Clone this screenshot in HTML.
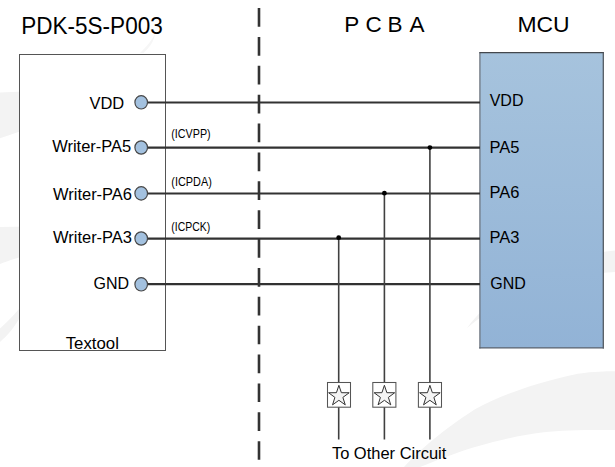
<!DOCTYPE html>
<html><head><meta charset="utf-8">
<style>
html,body{margin:0;padding:0;background:#fff;}
body{width:615px;height:467px;overflow:hidden;position:relative;}
svg{position:absolute;left:0;top:0;}
text{font-family:"Liberation Sans",sans-serif;fill:#000;}
</style></head><body>
<svg width="615" height="467" viewBox="0 0 615 467">
<defs>
<linearGradient id="mcu" x1="0" y1="0" x2="0" y2="1">
<stop offset="0" stop-color="#a6c3dd"/>
<stop offset="1" stop-color="#92b3d6"/>
</linearGradient>
</defs>
<g fill="#f3f3f3">
<path d="M0,92.5 L60,90 L60,118 L0,138.3 Z"/>
<path d="M0,227 L60,226 L60,250 C30,254 15,258 0,264 Z"/>
<path d="M19,309 C12,317 6,323 0,328.5 L0,342 C8,335 14,328 22,314 Z"/>
<path d="M467,328 C500,285 550,256 615,250.5 L615,272 C560,274 510,292 467,328 Z"/>
<path d="M404,467 C420,450 440,432 475,409.3 C500,396 530,384 578,373.7 C595,371.5 605,371.3 615,371.3 L615,430 C590,429.8 560,430 543.7,432.2 C520,435 500,440 475,447 C455,453 435,461 420,467 Z"/>
<path fill="#f6f6f6" d="M140,53 C147,46 152,40 155,34 C154,41 150,47 143.5,53 Z"/>
</g>
<!-- watermark placeholder -->
<!-- titles -->
<text transform="translate(21.2,33.9) scale(0.98,1)" font-size="23">PDK-5S-P003</text>
<g font-size="22.5">
<text x="344.2" y="31.8">P</text>
<text x="365.6" y="31.8">C</text>
<text x="387.6" y="31.8">B</text>
<text x="409.6" y="31.8">A</text>
</g>
<text transform="translate(517.4,31.7) scale(1.02,1)" font-size="22.5">MCU</text>
<!-- Textool box -->
<rect x="19.5" y="54.5" width="146" height="296" fill="#fff" stroke="#555" stroke-width="1"/>
<!-- dashed -->
<line x1="259" y1="8.1" x2="259" y2="467" stroke="#333" stroke-width="2.6" stroke-dasharray="18.7 10.17"/>
<!-- MCU box -->
<rect x="479.9" y="52.3" width="123.4" height="295.6" fill="url(#mcu)"/>
<g stroke-width="1.25" fill="none">
<line x1="479.9" y1="52.4" x2="479.9" y2="348.5" stroke="#6a727c"/>
<line x1="479.3" y1="52.5" x2="604" y2="52.5" stroke="#43474d"/>
<line x1="603.3" y1="51.9" x2="603.3" y2="348.5" stroke="#4f555c"/>
<line x1="479.3" y1="347.9" x2="604" y2="347.9" stroke="#58616c"/>
</g>
<!-- horizontal lines -->
<g stroke="#323232" stroke-width="2.2">
<line x1="141" y1="102.5" x2="480" y2="102.5"/>
<line x1="141" y1="147.7" x2="480" y2="147.7"/>
<line x1="141" y1="193.5" x2="480" y2="193.5"/>
<line x1="141" y1="238.6" x2="480" y2="238.6"/>
<line x1="141" y1="284.2" x2="480" y2="284.2"/>
</g>
<!-- vertical lines -->
<g stroke="#404040" stroke-width="1.6">
<line x1="338.7" y1="238.6" x2="338.7" y2="439.5"/>
<line x1="384.4" y1="193.5" x2="384.4" y2="439.5"/>
<line x1="429.9" y1="147.7" x2="429.9" y2="439.5"/>
</g>
<g fill="#000">
<circle cx="338.7" cy="237.7" r="2.4"/>
<circle cx="384.4" cy="193.2" r="2.4"/>
<circle cx="429.9" cy="147.6" r="2.4"/>
</g>
<!-- pins -->
<g fill="#a3c1df" stroke="#474747" stroke-width="1.2">
<ellipse cx="141.2" cy="102.3" rx="6.3" ry="6.7"/>
<ellipse cx="141.2" cy="147.5" rx="6.3" ry="6.7"/>
<ellipse cx="141.2" cy="193.4" rx="6.3" ry="6.7"/>
<ellipse cx="141.2" cy="238.5" rx="6.3" ry="6.7"/>
<ellipse cx="141.2" cy="284.3" rx="6.3" ry="6.7"/>
</g>
<!-- left labels -->
<g font-size="16">
<text transform="translate(89.4,108.9) scale(1.03,1)">VDD</text>
<text transform="translate(52.2,151.9) scale(1.03,1)">Writer-PA5</text>
<text transform="translate(53.0,200.1) scale(1.03,1)">Writer-PA6</text>
<text transform="translate(53.0,243) scale(1.03,1)">Writer-PA3</text>
<text transform="translate(93.5,289.3)">GND</text>
<text transform="translate(65.7,349) scale(1.05,1)">Textool</text>
</g>
<!-- signal names -->
<g font-size="12">
<text transform="translate(171.3,138.2) scale(0.895,1)">(ICVPP)</text>
<text transform="translate(171.3,186.2) scale(0.907,1)">(ICPDA)</text>
<text transform="translate(171.3,230.8) scale(0.872,1)">(ICPCK)</text>
</g>
<!-- MCU labels -->
<g font-size="16">
<text transform="translate(489.7,106.2) scale(1.0,1)">VDD</text>
<text transform="translate(489.6,152.7) scale(1.03,1)">PA5</text>
<text transform="translate(489.5,197.8) scale(1.03,1)">PA6</text>
<text transform="translate(489.5,242.8) scale(1.03,1)">PA3</text>
<text transform="translate(490.35,288.8)">GND</text>
</g>
<!-- star boxes -->
<g id="sb">
</g>
<g fill="#fff" stroke="#555" stroke-width="1.05">
<rect x="327.5" y="382.5" width="23" height="24.7"/>
<rect x="372.8" y="382.5" width="23.1" height="24.7"/>
<rect x="418.4" y="382.5" width="23.1" height="24.7"/>
</g>
<g fill="#f4f4f4" stroke="#333" stroke-width="1">
<polygon points="338.90,385.30 341.37,392.70 349.17,392.76 342.89,397.40 345.25,404.84 338.90,400.30 332.55,404.84 334.91,397.40 328.63,392.76 336.43,392.70"/>
<polygon points="384.40,385.30 386.87,392.70 394.67,392.76 388.39,397.40 390.75,404.84 384.40,400.30 378.05,404.84 380.41,397.40 374.13,392.76 381.93,392.70"/>
<polygon points="429.90,385.30 432.37,392.70 440.17,392.76 433.89,397.40 436.25,404.84 429.90,400.30 423.55,404.84 425.91,397.40 419.63,392.76 427.43,392.70"/>
</g>
<text transform="translate(331.9,458.7) scale(1.03,1)" font-size="16">To Other Circuit</text>
</svg>
</body></html>
